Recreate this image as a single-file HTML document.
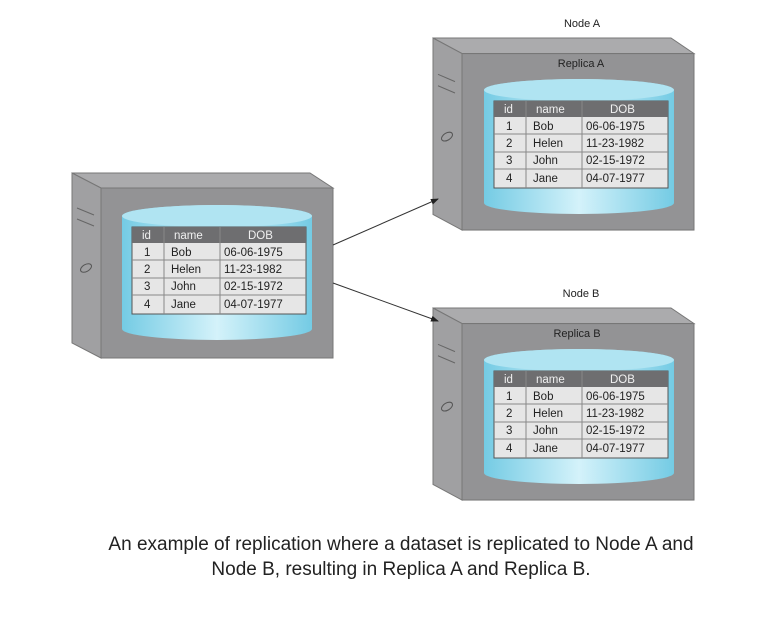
<!DOCTYPE html>
<html><head><style>
body{margin:0;background:#fff;width:759px;height:618px;overflow:hidden}
svg text{font-family:"Liberation Sans",Arial,sans-serif}
.cap{position:absolute;top:532px;left:0;width:802px;text-align:center;font-family:"Liberation Sans",sans-serif;font-size:19px;line-height:25px;color:#222;letter-spacing:0px}
</style></head><body>
<svg width="759" height="618" style="position:absolute;left:0;top:0">
<defs>
<linearGradient id="cyl" x1="0" x2="1" y1="0" y2="0">
<stop offset="0" stop-color="#74cbe4"/><stop offset="0.5" stop-color="#d4f2fa"/><stop offset="1" stop-color="#74cbe4"/>
</linearGradient>
<marker id="ar" markerWidth="8" markerHeight="6" refX="7" refY="3" orient="auto"><path d="M0,0 L8,3 L0,6z" fill="#222"/></marker>
<g id="srv">
<polygon points="0,0 238,0 261,15 29,15" fill="#ababad" stroke="#777" stroke-width="1"/>
<polygon points="0,0 29,15 29,185 0,170" fill="#a0a0a2" stroke="#777" stroke-width="1"/>
<rect x="29" y="15" width="232" height="170" fill="#939395" stroke="#777"/>
<line x1="5" y1="35" x2="22" y2="42" stroke="#666"/>
<line x1="5" y1="46" x2="22" y2="53" stroke="#666"/>
<ellipse cx="14" cy="95" rx="6" ry="3.5" fill="none" stroke="#555" transform="rotate(-30 14 95)"/>
</g>
<g id="db">
<path d="M0,10 A95,11 0 0 1 190,10 L190,123 A95,11 0 0 1 0,123 Z" fill="url(#cyl)"/>
<ellipse cx="95" cy="10" rx="95" ry="11" fill="#b0e4f2"/>
<g transform="translate(10,21)">
<rect x="0" y="0" width="174" height="87" fill="#e6e6e6" stroke="#555"/>
<rect x="0" y="0" width="174" height="16" fill="#6e6e70"/>
<line x1="0" y1="33" x2="174" y2="33" stroke="#888"/>
<line x1="0" y1="51" x2="174" y2="51" stroke="#888"/>
<line x1="0" y1="68" x2="174" y2="68" stroke="#888"/>
<line x1="32" y1="0" x2="32" y2="87" stroke="#888"/>
<line x1="88" y1="0" x2="88" y2="87" stroke="#888"/>
<g font-size="11.5" fill="#f0f0f0"><text x="10" y="12">id</text><text x="42" y="12">name</text><text x="116" y="12">DOB</text></g>
<g font-size="11.5" fill="#222">
<text x="12" y="29">1</text><text x="39" y="29">Bob</text><text x="92" y="29">06-06-1975</text>
<text x="12" y="46">2</text><text x="39" y="46">Helen</text><text x="92" y="46">11-23-1982</text>
<text x="12" y="63">3</text><text x="39" y="63">John</text><text x="92" y="63">02-15-1972</text>
<text x="12" y="81">4</text><text x="39" y="81">Jane</text><text x="92" y="81">04-07-1977</text>
</g></g>
</g>
</defs>
<use href="#srv" x="72" y="173"/>
<use href="#db" x="122" y="206"/>
<g transform="translate(433,38) scale(1,1.038)"><use href="#srv"/></g>
<use href="#db" x="484" y="80"/>
<g transform="translate(433,308) scale(1,1.038)"><use href="#srv"/></g>
<use href="#db" x="484" y="350"/>
<text x="582" y="27" font-size="11" text-anchor="middle" fill="#222">Node A</text>
<text x="581" y="67" font-size="11" text-anchor="middle" fill="#222">Replica A</text>
<text x="581" y="297" font-size="11" text-anchor="middle" fill="#222">Node B</text>
<text x="577" y="337" font-size="11" text-anchor="middle" fill="#222">Replica B</text>
<line x1="333" y1="245" x2="438" y2="199" stroke="#333" marker-end="url(#ar)"/>
<line x1="333" y1="283" x2="438" y2="321" stroke="#333" marker-end="url(#ar)"/>
</svg>
<div class="cap">An example of replication where a dataset is replicated to Node A and<br>Node B, resulting in Replica A and Replica B.</div>
</body></html>
